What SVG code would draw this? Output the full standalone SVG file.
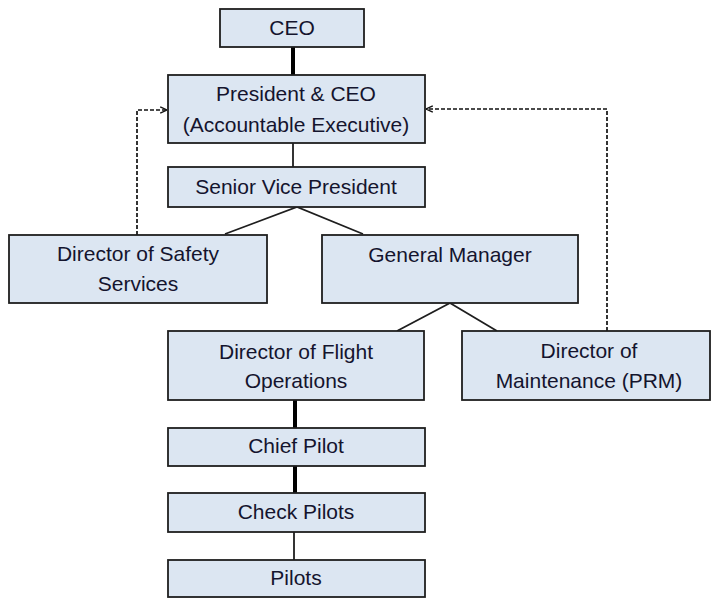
<svg xmlns="http://www.w3.org/2000/svg" width="711" height="598" viewBox="0 0 711 598">
<style>
.box{fill:#dce6f2;stroke:#1e1e1e;stroke-width:1.8}
.t{font-family:"Liberation Sans",Arial,sans-serif;font-size:21px;fill:#14142e;text-anchor:middle}
.thick{stroke:#000;stroke-width:4;fill:none}
.thin{stroke:#1e1e1e;stroke-width:1.8;fill:none}
.dash{stroke:#111;stroke-width:1.7;fill:none;stroke-dasharray:4 2}
</style>
<defs>
<marker id="arr" viewBox="0 0 10 10" refX="9.5" refY="5" markerWidth="8" markerHeight="8" markerUnits="userSpaceOnUse" orient="auto">
<path d="M1,1 L9.5,5 L1,9" fill="none" stroke="#111" stroke-width="1.7"/>
</marker>
</defs>
<g id="connectors">
<line class="thick" x1="293" y1="47" x2="293" y2="75"/>
<line class="thin" x1="293" y1="143" x2="293" y2="167"/>
<polyline class="thin" points="225,234 297,207 363,234"/>
<polyline class="thin" points="397,331 450,303 497,331"/>
<line class="thick" x1="295" y1="400" x2="295" y2="428"/>
<line class="thick" x1="295" y1="466" x2="295" y2="493"/>
<line class="thin" x1="294" y1="532" x2="294" y2="560"/>
<polyline class="dash" points="137,235 137,110 167,110" marker-end="url(#arr)"/>
<polyline class="dash" points="607,331 607,109 426,109" marker-end="url(#arr)"/>
</g>
<g id="ceo"><rect class="box" x="220" y="9" width="144" height="38"/><text class="t" x="292" y="35">CEO</text></g>
<g id="president"><rect class="box" x="168" y="75" width="257" height="68"/><text class="t" x="296" y="101">President &amp; CEO</text><text class="t" x="296" y="132">(Accountable Executive)</text></g>
<g id="svp"><rect class="box" x="168" y="167" width="257" height="40"/><text class="t" x="296" y="194">Senior Vice President</text></g>
<g id="dss"><rect class="box" x="9" y="235" width="258" height="68"/><text class="t" x="138" y="261">Director of Safety</text><text class="t" x="138" y="291">Services</text></g>
<g id="gm"><rect class="box" x="322" y="235" width="256" height="68"/><text class="t" x="450" y="262">General Manager</text></g>
<g id="dfo"><rect class="box" x="168" y="331" width="256" height="69"/><text class="t" x="296" y="359">Director of Flight</text><text class="t" x="296" y="388">Operations</text></g>
<g id="dm"><rect class="box" x="462" y="331" width="248" height="69"/><text class="t" x="589" y="358">Director of</text><text class="t" x="589" y="388">Maintenance (PRM)</text></g>
<g id="chief"><rect class="box" x="168" y="428" width="257" height="38"/><text class="t" x="296" y="453">Chief Pilot</text></g>
<g id="check"><rect class="box" x="168" y="493" width="257" height="39"/><text class="t" x="296" y="519">Check Pilots</text></g>
<g id="pilots"><rect class="box" x="168" y="560" width="257" height="37"/><text class="t" x="296" y="585">Pilots</text></g>
</svg>
